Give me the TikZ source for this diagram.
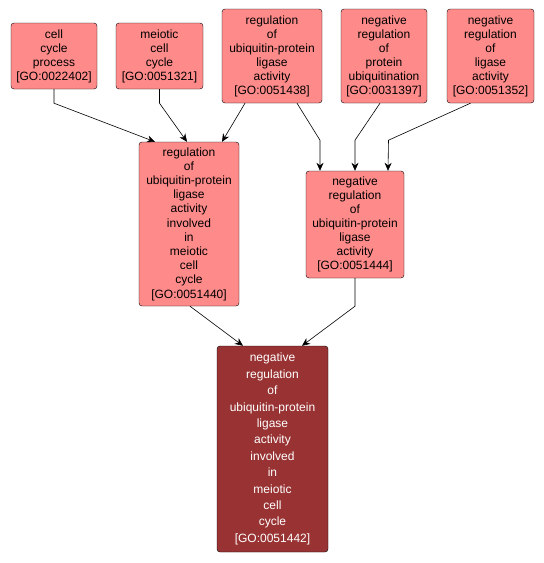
\documentclass[tikz,border=0pt]{standalone}
\usepackage{fontspec}
\setmainfont{Liberation Sans}
\usetikzlibrary{arrows.meta}
\definecolor{termfill}{HTML}{FF8A8A}
\definecolor{rootfill}{HTML}{993333}
\tikzset{
  term/.style={draw, rectangle, rounded corners=3pt, fill=termfill, align=center, inner sep=0pt, font=\fontsize{12}{14}\selectfont},
  root/.style={term, fill=rootfill, text=white, font=\fontsize{12}{16.4}\selectfont},
  edge/.style={-{Stealth[length=8pt,width=7pt]}, semithick}
}
\begin{document}
\begin{tikzpicture}[x=1pt, y=-1pt]
\useasboundingbox (0,0) rectangle (544,563);
\node[term, minimum width=86pt, minimum height=66pt] (ccp) at (54,56) {cell\\cycle\\process\\{[GO:0022402]}};
\node[term, minimum width=87pt, minimum height=66pt] (mcc) at (159.5,56) {meiotic\\cell\\cycle\\{[GO:0051321]}};
\node[term, minimum width=100pt, minimum height=94pt] (rula) at (272,56) {regulation\\of\\ubiquitin-protein\\ligase\\activity\\{[GO:0051438]}};
\node[term, minimum width=86pt, minimum height=94pt] (nrpu) at (384,56) {negative\\regulation\\of\\protein\\ubiquitination\\{[GO:0031397]}};
\node[term, minimum width=87pt, minimum height=94pt] (nrla) at (490.5,56) {negative\\regulation\\of\\ligase\\activity\\{[GO:0051352]}};
\node[term, minimum width=100pt, minimum height=164pt, font=\fontsize{12}{14.2}\selectfont] (rulam) at (189,224) {regulation\\of\\ubiquitin-protein\\ligase\\activity\\involved\\in\\meiotic\\cell\\cycle\\{[GO:0051440]}};
\node[term, minimum width=98pt, minimum height=107pt] (nrula) at (355,224.5) {negative\\regulation\\of\\ubiquitin-protein\\ligase\\activity\\{[GO:0051444]}};
\node[root, minimum width=111pt, minimum height=206pt] (nrulam) at (272.5,449) {negative\\regulation\\of\\ubiquitin-protein\\ligase\\activity\\involved\\in\\meiotic\\cell\\cycle\\{[GO:0051442]}};
% parents of the meiotic term
\draw[edge] (ccp.south) -- ++(0,14) -- ([xshift=-34pt]rulam.north);
\draw[edge] (mcc.south) -- ++(0,14) -- ([xshift=-2pt]rulam.north);
\draw[edge] ([xshift=-27pt]rula.south) -- ([xshift=33pt]rulam.north);
% parents of the negative term
\draw[edge] ([xshift=25pt]rula.south) -- ++(23,37) -- ([xshift=-35pt]nrula.north);
\draw[edge] ([xshift=-4pt]nrpu.south) -- ++(-25,37) -- (nrula.north);
\draw[edge] ([xshift=-20pt]nrla.south) -- ++(-82,37) -- ([xshift=33pt]nrula.north);
% to the root
\draw[edge] ([xshift=1pt]rulam.south) -- ([xshift=-29.5pt]nrulam.north);
\draw[edge] (nrula.south) -- ++(0,28) -- ([xshift=29.5pt]nrulam.north);
\end{tikzpicture}
\end{document}
